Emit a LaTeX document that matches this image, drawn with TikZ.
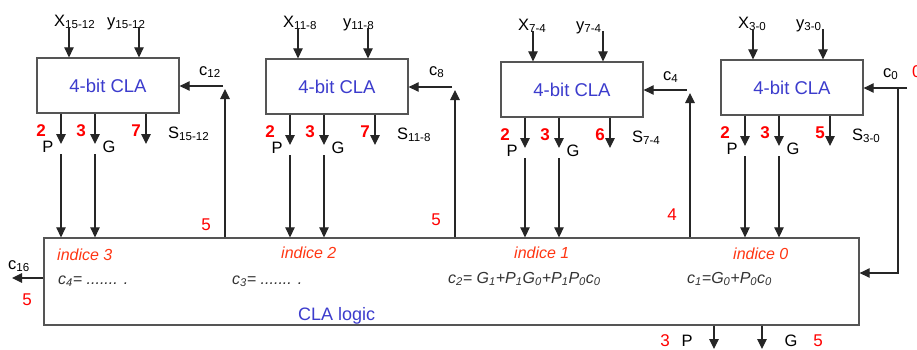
\documentclass[tikz,border=0pt]{standalone}
\usepackage{fontspec}
\setmainfont{Liberation Sans}
\usetikzlibrary{arrows.meta}
\definecolor{claBlue}{RGB}{60,60,205}
\definecolor{numRed}{RGB}{255,0,0}
\definecolor{idxRed}{RGB}{255,55,20}
\definecolor{boxGray}{RGB}{85,85,85}
\tikzset{
  clabox/.style={draw=boxGray, line width=1.3pt, fill=white, minimum width=142pt, minimum height=55pt,
    inner sep=0pt, text=claBlue, font=\fontsize{18.5}{21}\selectfont},
  logicbox/.style={draw=boxGray, line width=1.3pt, minimum width=815pt, minimum height=87pt, inner sep=0pt},
  arr/.style={-{Triangle[length=10pt,width=9.5pt]}, line width=1.1pt, draw=black!85},
  ln/.style={line width=1.1pt, draw=black!85},
  lbl/.style={inner sep=0pt, font=\fontsize{16.5}{19}\selectfont},
  rnum/.style={inner sep=0pt, text=numRed, font=\fontsize{17}{20}\selectfont\bfseries},
  rnumn/.style={inner sep=0pt, text=numRed, font=\fontsize{17}{20}\selectfont},
  idx/.style={inner sep=0pt, text=idxRed, font=\fontsize{16}{19}\selectfont\itshape},
  frm/.style={inner sep=0pt, text=black!80, font=\fontsize{16}{19}\selectfont\itshape},
}
% #1 name, #2 left x, #3 top y, #4 X subscript, #5 y subscript, #6 y-label x offset, #7 S subscript, #8 S bits
\newcommand\claunit[8]{%
\begin{scope}[shift={(#2,#3)}]
  \node[clabox] (#1) at (71,27.5) {4-bit CLA};
  \node[lbl, anchor=base west] (#1Xl) at (17,-32) {X\textsubscript{#4}};
  \node[lbl, anchor=base west] (#1Yl) at (#6,-32) {y\textsubscript{#5}};
  \coordinate (#1xi) at (32,-31);
  \coordinate (#1yi) at (102,-31);
  \draw[arr] (#1xi) -- (#1xi |- #1.north);
  \draw[arr] (#1yi) -- (#1yi |- #1.north);
  \coordinate (#1po) at (24,86);
  \coordinate (#1go) at (58,86);
  \coordinate (#1so) at (109,86);
  \draw[arr] (#1po |- #1.south) -- (#1po);
  \draw[arr] (#1go |- #1.south) -- (#1go);
  \draw[arr] (#1so |- #1.south) -- (#1so);
  \coordinate (#1pc) at (24,96);
  \coordinate (#1gc) at (58,96);
  \draw[arr] (#1pc) -- (#1pc |- L.north);
  \draw[arr] (#1gc) -- (#1gc |- L.north);
  \node[rnum, anchor=base] (#1n2) at (4,78) {2};
  \node[rnum, anchor=base] (#1n3) at (44,78) {3};
  \node[rnum, anchor=base] (#1ns) at (99,78) {#8};
  \node[lbl, anchor=base] (#1P) at (11,94) {P};
  \node[lbl, anchor=base] (#1G) at (72,94) {G};
  \node[lbl, anchor=base west] (#1S) at (131,80) {S\textsubscript{#7}};
\end{scope}}

\begin{document}
\begin{tikzpicture}[x=1pt,y=-1pt]
\useasboundingbox (0,0) rectangle (917,349);
\fill[white] (0,0) rectangle (917,349);

% CLA logic box
\node[logicbox] (L) at (451.5,281.5) {};
\node[inner sep=0pt, anchor=base west, text=claBlue, font=\fontsize{18}{21}\selectfont] (Lt) at (298,320) {CLA logic};

\node[idx, anchor=base west] (i3) at (57,260) {indice 3};
\node[idx, anchor=base west] (i2) at (281,258) {indice 2};
\node[idx, anchor=base west] (i1) at (514,258) {indice 1};
\node[idx, anchor=base west] (i0) at (733,259) {indice 0};

\node[frm, anchor=base west] (f4) at (58,284) {c\textsubscript{4}= ....... .};
\node[frm, anchor=base west] (f3) at (232,284) {c\textsubscript{3}= ....... .};
\node[frm, anchor=base west] (f2) at (448,283) {c\textsubscript{2}= G\textsubscript{1}+P\textsubscript{1}G\textsubscript{0}+P\textsubscript{1}P\textsubscript{0}c\textsubscript{0}};
\node[frm, anchor=base west] (f1) at (687,283) {c\textsubscript{1}=G\textsubscript{0}+P\textsubscript{0}c\textsubscript{0}};

% four 4-bit CLA units
\claunit{b3}{37}{58}{15-12}{15-12}{70}{15-12}{7}
\claunit{b2}{266}{59}{11-8}{11-8}{77}{11-8}{7}
\claunit{b1}{501}{62}{7-4}{7-4}{75}{7-4}{6}
\claunit{b0}{721}{60}{3-0}{3-0}{75}{3-0}{5}

% carries
\coordinate (c12v) at (225,89);
\coordinate (c12h) at (223,86);
\draw[arr] (c12v |- L.north) -- (c12v);
\draw[arr] (c12h) -- (c12h -| b3.east);
\node[lbl, anchor=base west] (c12l) at (199,75) {c\textsubscript{12}};
\node[rnumn, anchor=base] (n5a) at (206,230) {5};

\coordinate (c8v) at (455,90);
\coordinate (c8h) at (452,87);
\draw[arr] (c8v |- L.north) -- (c8v);
\draw[arr] (c8h) -- (c8h -| b2.east);
\node[lbl, anchor=base west] (c8l) at (429,75) {c\textsubscript{8}};
\node[rnumn, anchor=base] (n5b) at (436,225) {5};

\coordinate (c4v) at (690,93);
\coordinate (c4h) at (687,90);
\draw[arr] (c4v |- L.north) -- (c4v);
\draw[arr] (c4h) -- (c4h -| b1.east);
\node[lbl, anchor=base west] (c4l) at (663,80) {c\textsubscript{4}};
\node[rnumn, anchor=base] (n4) at (672,220) {4};

\coordinate (c0s) at (907,88);
\coordinate (c0t) at (898,273);
\draw[arr] (c0s) -- (c0s -| b0.east);
\draw[arr] (c0s -| c0t) -- (c0t) -- (c0t -| L.east);
\node[lbl, anchor=base west] (c0l) at (883,77) {c\textsubscript{0}};
\node[rnumn, anchor=base west] (n0) at (912,77) {0};

% c16 output
\coordinate (c16) at (12,278);
\draw[arr] (c16 -| L.west) -- (c16);
\node[lbl, anchor=base west] (c16l) at (8,269) {c\textsubscript{16}};
\node[rnumn, anchor=base] (n5c) at (27,305) {5};

% group P and G outputs
\coordinate (po) at (714,349);
\coordinate (go) at (762,349);
\draw[arr] (po |- L.south) -- (po);
\draw[arr] (go |- L.south) -- (go);
\node[rnumn, anchor=base] (n3p) at (665,346.5) {3};
\node[lbl, anchor=base] (Pl) at (687,346) {P};
\node[lbl, anchor=base] (Gl) at (791,346) {G};
\node[rnumn, anchor=base] (n5g) at (818,346.5) {5};
\end{tikzpicture}
\end{document}
